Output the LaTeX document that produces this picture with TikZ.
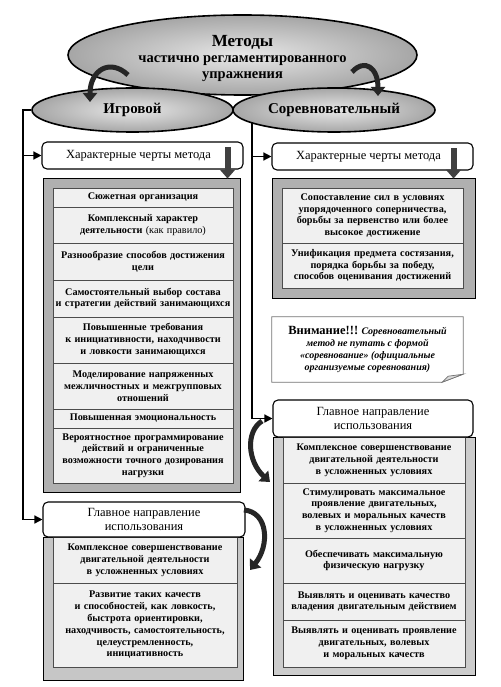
\documentclass[tikz,border=0pt]{standalone}
\usepackage{fontspec}
\setmainfont{Liberation Serif}
\usetikzlibrary{shapes.geometric,arrows.meta,positioning}
\tikzset{
  oval/.style={ellipse, draw, line width=1.6pt, inner sep=0pt, align=center,
    inner color=gray!18, outer color=gray!70},
  headbox/.style={draw, line width=1.1pt, rounded corners=5pt, fill=white, align=center,
    inner sep=0pt, font=\fontsize{12.5}{14}\selectfont},
  framebox/.style={draw, line width=0.9pt},
  cell/.style={draw=black!70, line width=0.6pt, fill=gray!12, align=center, inner sep=0.5pt,
    font=\bfseries\fontsize{10.2}{11.8}\selectfont},
  notebox/.style={draw=black!55, line width=0.7pt},
  link/.style={line width=1.4pt, -{Triangle[length=8pt,width=8pt]}},
  curl/.style={line width=5pt, draw=black!85, -{Triangle[length=9pt,width=14pt]}},
  downarr/.style={line width=6pt, draw=black!75, -{Triangle[length=9pt,width=15pt]}}
}

\begin{document}
\begin{tikzpicture}[x=1pt,y=-1pt]
\useasboundingbox (0,0) rectangle (500,687);

% ellipses
\node[oval, minimum width=349pt, minimum height=80pt] (main) at (242.5,55) {};
\node[align=center, font=\bfseries\fontsize{14.5}{16}\selectfont] (maintxt) at (242.5,59)
  {{\fontsize{17}{18}\selectfont Методы}\\частично регламентированного\\упражнения};
\node[oval, minimum width=201pt, minimum height=44pt, font=\bfseries\fontsize{15}{16}\selectfont]
  (igr) at (132.5,110) {Игровой};
\node[oval, minimum width=202pt, minimum height=44pt, font=\bfseries\fontsize{15}{16}\selectfont]
  (sor) at (334,110) {Соревновательный};

% left column
\draw[framebox, fill=gray!62] (43,178) rectangle (240,492);
\foreach \n/\ya/\yb/\txt in {
  1/188/207/{Сюжетная организация},
  2/207/243/{Комплексный характер\\деятельности {\mdseries(как правило)}},
  3/243/280/{Разнообразие способов достижения\\цели},
  4/280/317/{Самостоятельный выбор состава\\и стратегии действий занимающихся},
  5/317/363/{Повышенные требования\\к инициативности, находчивости\\и ловкости занимающихся},
  6/363/409/{Моделирование напряженных\\межличностных и межгрупповых\\отношений},
  7/409/428/{Повышенная эмоциональность},
  8/428/483/{Вероятностное программирование\\действий и ограниченные\\возможности точного дозирования\\нагрузки}} {
  \pgfmathsetmacro\h{\yb-\ya}
  \pgfmathsetmacro\yc{(\ya+\yb)/2}
  \node[cell, text width=179pt, minimum width=180pt, minimum height=\h pt] (a\n) at (143,\yc) {\txt};
}
\node[headbox, minimum width=201pt, minimum height=27pt] (har1) at (142.5,155.5) {Характерные черты метода\hspace*{8pt}};
\draw[downarr] ([xshift=-16pt,yshift=-6pt]har1.north east) -- ([xshift=-16pt,yshift=-9pt]har1.south east);

\draw[framebox, fill=gray!45] (43,537) rectangle (243,680);
\foreach \n/\ya/\yb/\txt in {
  1/537/583/{Комплексное совершенствование\\двигательной деятельности\\в усложненных условиях},
  2/583/667/{Развитие таких качеств\\и способностей, как ловкость,\\быстрота ориентировки,\\находчивость, самостоятельность,\\целеустремленность,\\инициативность}} {
  \pgfmathsetmacro\h{\yb-\ya}
  \pgfmathsetmacro\yc{(\ya+\yb)/2}
  \node[cell, text width=183pt, minimum width=184pt, minimum height=\h pt] (b\n) at (145,\yc) {\txt};
}
\node[headbox, minimum width=202pt, minimum height=35pt] (glav1) at (144,519.5) {Главное направление\\использования};

% right column
\draw[framebox, fill=gray!62] (272,178) rectangle (475,298);
\foreach \n/\ya/\yb/\txt in {
  1/188/243/{Сопоставление сил в условиях\\упорядоченного соперничества,\\борьбы за первенство или более\\высокое достижение},
  2/243/288/{Унификация предмета состязания,\\порядка борьбы за победу,\\способов оценивания достижений}} {
  \pgfmathsetmacro\h{\yb-\ya}
  \pgfmathsetmacro\yc{(\ya+\yb)/2}
  \node[cell, text width=180pt, minimum width=181pt, minimum height=\h pt] (c\n) at (372.5,\yc) {\txt};
}
\node[headbox, minimum width=201pt, minimum height=27pt] (har2) at (372.5,156.5) {Характерные черты метода\hspace*{8pt}};
\draw[downarr] ([xshift=-20pt,yshift=-6pt]har2.north east) -- ([xshift=-20pt,yshift=-8pt]har2.south east);

% note
\node[minimum width=191pt, minimum height=65pt, align=center, inner sep=0pt,
  font=\bfseries\itshape\fontsize{10}{12}\selectfont] (note) at (367.5,349.5)
  {{\upshape\fontsize{12.5}{12}\selectfont Внимание!!!} Соревновательный\\метод не путать с формой\\«соревнование» (официальные\\организуемые соревнования)};
\draw[notebox] (note.north west) -- (note.north east) -- ([yshift=8pt]note.south east)
  -- ([xshift=-21pt]note.south east) -- (note.south west) -- cycle;
\draw[notebox, fill=gray!30] ([xshift=-21pt]note.south east) -- ([xshift=-15pt,yshift=6pt]note.south east)
  -- ([yshift=8pt]note.south east) -- cycle;

\draw[framebox, fill=gray!40] (273,437) rectangle (475,675);
\foreach \n/\ya/\yb/\txt in {
  1/437/483/{Комплексное совершенствование\\двигательной деятельности\\в усложненных условиях},
  2/483/538/{Стимулировать максимальное\\проявление двигательных,\\волевых и моральных качеств\\в усложненных условиях},
  3/538/583/{Обеспечивать максимальную\\физическую нагрузку},
  4/583/620/{Выявлять и оценивать качество\\владения двигательным действием},
  5/620/667/{Выявлять и оценивать проявление\\двигательных, волевых\\и моральных качеств}} {
  \pgfmathsetmacro\h{\yb-\ya}
  \pgfmathsetmacro\yc{(\ya+\yb)/2}
  \node[cell, text width=181pt, minimum width=182pt, minimum height=\h pt] (d\n) at (374,\yc) {\txt};
}
\node[headbox, minimum width=200pt, minimum height=37pt] (glav2) at (373,418.5) {Главное направление\\использования};

% trunk lines
\coordinate (lx) at (23,110);
\coordinate (rx) at (252,123);
\draw[link] (igr.west) -- (lx) |- (glav1.west);
\draw[link] (har1.west -| lx) -- (har1.west);
\draw[link] (rx) |- (glav2.west);
\draw[link] (har2.west -| rx) -- (har2.west);

% curved arrows
\draw[curl] (128,75) .. controls (110,58) and (90,70) .. (90,102);
\draw[curl] (352,72) .. controls (365,58) and (378,68) .. (378,96);
\draw[curl] (244,510) .. controls (268,512) and (270,545) .. (250,570);
\draw[curl] (262,421) .. controls (245,432) and (248,462) .. (270,482);
\end{tikzpicture}
\end{document}
